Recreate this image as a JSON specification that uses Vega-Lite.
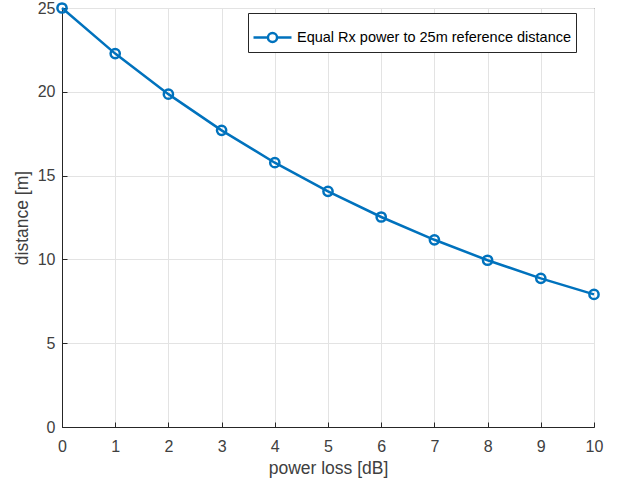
{
  "$schema": "https://vega.github.io/schema/vega-lite/v6.json",
  "width": 532,
  "height": 419,
  "padding": {"left": 62, "top": 8, "right": 32, "bottom": 59},
  "autosize": {"type": "none"},
  "background": "white",
  "data": {"values": [
    {"loss": 0, "distance": 25.0, "series": "Equal Rx power to 25m reference distance"},
    {"loss": 1, "distance": 22.28, "series": "Equal Rx power to 25m reference distance"},
    {"loss": 2, "distance": 19.86, "series": "Equal Rx power to 25m reference distance"},
    {"loss": 3, "distance": 17.70, "series": "Equal Rx power to 25m reference distance"},
    {"loss": 4, "distance": 15.77, "series": "Equal Rx power to 25m reference distance"},
    {"loss": 5, "distance": 14.06, "series": "Equal Rx power to 25m reference distance"},
    {"loss": 6, "distance": 12.53, "series": "Equal Rx power to 25m reference distance"},
    {"loss": 7, "distance": 11.17, "series": "Equal Rx power to 25m reference distance"},
    {"loss": 8, "distance": 9.95, "series": "Equal Rx power to 25m reference distance"},
    {"loss": 9, "distance": 8.87, "series": "Equal Rx power to 25m reference distance"},
    {"loss": 10, "distance": 7.91, "series": "Equal Rx power to 25m reference distance"}
  ]},
  "config": {
    "font": "Liberation Sans",
    "view": {"stroke": "#262626", "strokeWidth": 1},
    "axis": {
      "labelFont": "Liberation Sans",
      "titleFont": "Liberation Sans",
      "labelColor": "#404040",
      "titleColor": "#404040",
      "labelFontSize": 16,
      "titleFontSize": 17.5,
      "titleFontWeight": "normal",
      "domainColor": "#262626",
      "tickColor": "#262626",
      "gridColor": "#e3e3e3",
      "gridOpacity": 1,
      "tickSize": -5,
      "labelFlush": false,
      "labelOverlap": false
    }
  },
  "layer": [
    {
      "mark": {"type": "line", "strokeWidth": 2.5, "clip": false},
      "encoding": {
        "x": {"field": "loss", "type": "quantitative", "scale": {"domain": [0, 10], "nice": false},
          "axis": {"title": "power loss [dB]", "values": [0,1,2,3,4,5,6,7,8,9,10], "labelPadding": 16, "titlePadding": 5}},
        "y": {"field": "distance", "type": "quantitative", "scale": {"domain": [0, 25], "nice": false},
          "axis": {"title": "distance [m]", "values": [0,5,10,15,20,25], "labelPadding": 12, "titlePadding": 6}},
        "color": {"field": "series", "type": "nominal", "scale": {"range": ["#0072BD"]},
          "legend": {
            "title": null,
            "orient": "none",
            "legendX": 186,
            "legendY": 5,
            "fillColor": "white",
            "strokeColor": "#262626",
            "padding": 4,
            "labelFont": "Liberation Sans",
            "labelFontSize": 14.5,
            "labelColor": "#000000",
            "labelLimit": 400,
            "symbolType": "M-1,0H-0.24M0.24,0H1M0.24,0A0.24,0.24 0 1,1 -0.24,0A0.24,0.24 0 1,1 0.24,0",
            "symbolSize": 1444,
            "symbolStrokeWidth": 2.5,
            "symbolFillColor": "transparent",
            "symbolStrokeColor": "#0072BD"
          }}
      }
    },
    {
      "mark": {"type": "point", "shape": "circle", "filled": false, "size": 85, "strokeWidth": 2.5, "opacity": 1, "clip": false},
      "encoding": {
        "x": {"field": "loss", "type": "quantitative"},
        "y": {"field": "distance", "type": "quantitative"},
        "color": {"field": "series", "type": "nominal"}
      }
    }
  ]
}
